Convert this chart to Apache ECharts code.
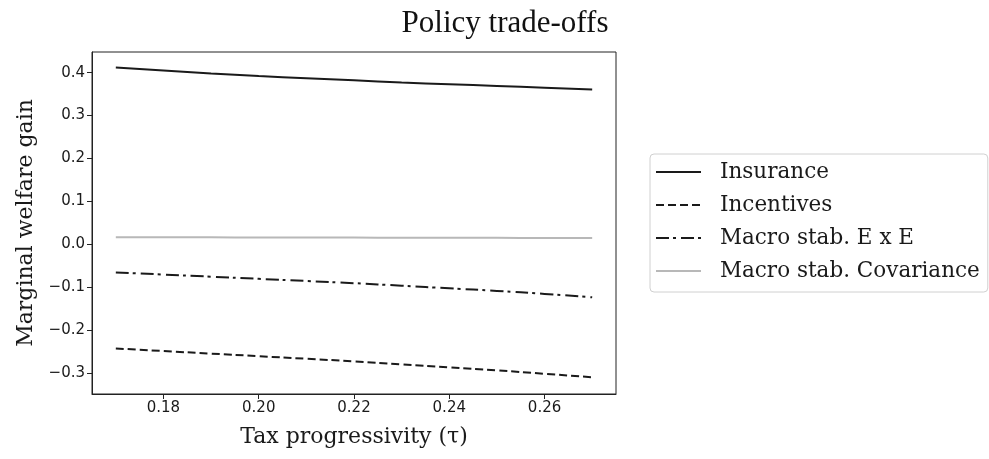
<!DOCTYPE html>
<html>
<head>
<meta charset="utf-8">
<script src="https://cdn.jsdelivr.net/npm/echarts@6/dist/echarts.min.js"></script>
<style>
html,body{margin:0;padding:0;background:#fff;}
#chart{width:989px;height:459px;}
</style>
</head>
<body>
<div id="chart"></div>
<script>
// Data
const taxProgressivity = [0.17, 0.18, 0.19, 0.20, 0.21, 0.22, 0.23, 0.24, 0.25, 0.26, 0.27];
const insurance  = [0.412, 0.405, 0.398, 0.392, 0.387, 0.382, 0.377, 0.373, 0.369, 0.365, 0.361];
const incentives = [-0.242, -0.248, -0.254, -0.260, -0.266, -0.272, -0.279, -0.286, -0.293, -0.301, -0.309];
const macroExE   = [-0.065, -0.070, -0.075, -0.080, -0.085, -0.090, -0.096, -0.102, -0.108, -0.115, -0.123];
const macroCov   = [0.017, 0.0168, 0.0166, 0.0164, 0.0162, 0.016, 0.0158, 0.0156, 0.0154, 0.0152, 0.015];
const xTicks = [0.18, 0.20, 0.22, 0.24, 0.26];
const yTicks = [-0.3, -0.2, -0.1, 0.0, 0.1, 0.2, 0.3, 0.4];
const seriesNames = ['Insurance', 'Incentives', 'Macro stab. E x E', 'Macro stab. Covariance'];

function pairs(ys) { return taxProgressivity.map((x, i) => [x, ys[i]]); }

const chart = echarts.init(document.getElementById('chart'), null, {renderer: 'canvas'});
const tickFont = {fontFamily: 'DejaVu Sans', fontSize: 15, color: '#1a1a1a'};
const serif = 'DejaVu Serif';

chart.setOption({
  animation: false,
  backgroundColor: '#fff',
  title: {
    text: 'Policy trade-offs',
    left: 500, top: 3, textAlign: 'center',
    textStyle: {fontFamily: 'Liberation Serif', fontWeight: 'normal', fontSize: 31, color: '#111'}
  },
  grid: {left: 92, right: 373, top: 52, bottom: 65, show: true, borderColor: '#222', borderWidth: 1},
  legend: {
    orient: 'vertical', left: 650, top: 154,
    data: seriesNames,
    itemWidth: 45, itemHeight: 14, itemGap: 9,
    padding: [6, 8, 9, 5],
    itemStyle: {opacity: 0},
    borderColor: '#d0d0d0', borderWidth: 1, borderRadius: 4,
    textStyle: {fontFamily: serif, fontSize: 21.5, color: '#1a1a1a', lineHeight: 24, padding: [0, 0, 0, 14]}
  },
  xAxis: {
    type: 'value', min: 0.165, max: 0.275,
    name: 'Tax progressivity (τ)', nameLocation: 'middle', nameGap: 32,
    nameTextStyle: {fontFamily: serif, fontSize: 22, color: '#1a1a1a'},
    axisLine: {show: true, onZero: false, lineStyle: {color: '#222'}},
    axisTick: {show: true, length: 5, inside: false, customValues: xTicks, lineStyle: {color: '#222'}},
    axisLabel: Object.assign({customValues: xTicks, margin: 7, formatter: v => v.toFixed(2)}, tickFont),
    splitLine: {show: false}
  },
  yAxis: {
    type: 'value', min: -0.348, max: 0.448,
    name: 'Marginal welfare gain', nameLocation: 'middle', nameGap: 55, nameRotate: 90,
    nameTextStyle: {fontFamily: serif, fontSize: 22, color: '#1a1a1a'},
    axisLine: {show: true, onZero: false, lineStyle: {color: '#222'}},
    axisTick: {show: true, length: 5, inside: false, customValues: yTicks, lineStyle: {color: '#222'}},
    axisLabel: Object.assign({customValues: yTicks, margin: 7, formatter: v => v.toFixed(1).replace('-', '\u2212')}, tickFont),
    splitLine: {show: false}
  },
  series: [
    {name: seriesNames[0], type: 'line', data: pairs(insurance), symbol: 'none', smooth: true,
     lineStyle: {color: '#1a1a1a', width: 2, type: 'solid'}, itemStyle: {color: '#1a1a1a'}},
    {name: seriesNames[1], type: 'line', data: pairs(incentives), symbol: 'none', smooth: true,
     lineStyle: {color: '#1a1a1a', width: 2, type: [8, 4]}, itemStyle: {color: '#1a1a1a'}},
    {name: seriesNames[2], type: 'line', data: pairs(macroExE), symbol: 'none', smooth: true,
     lineStyle: {color: '#1a1a1a', width: 2, type: [13, 4, 3, 5]}, itemStyle: {color: '#1a1a1a'}},
    {name: seriesNames[3], type: 'line', data: pairs(macroCov), symbol: 'none', smooth: true,
     lineStyle: {color: '#b8b8b8', width: 2, type: 'solid'}, itemStyle: {color: '#b8b8b8'}}
  ]
});
</script>
</body>
</html>
